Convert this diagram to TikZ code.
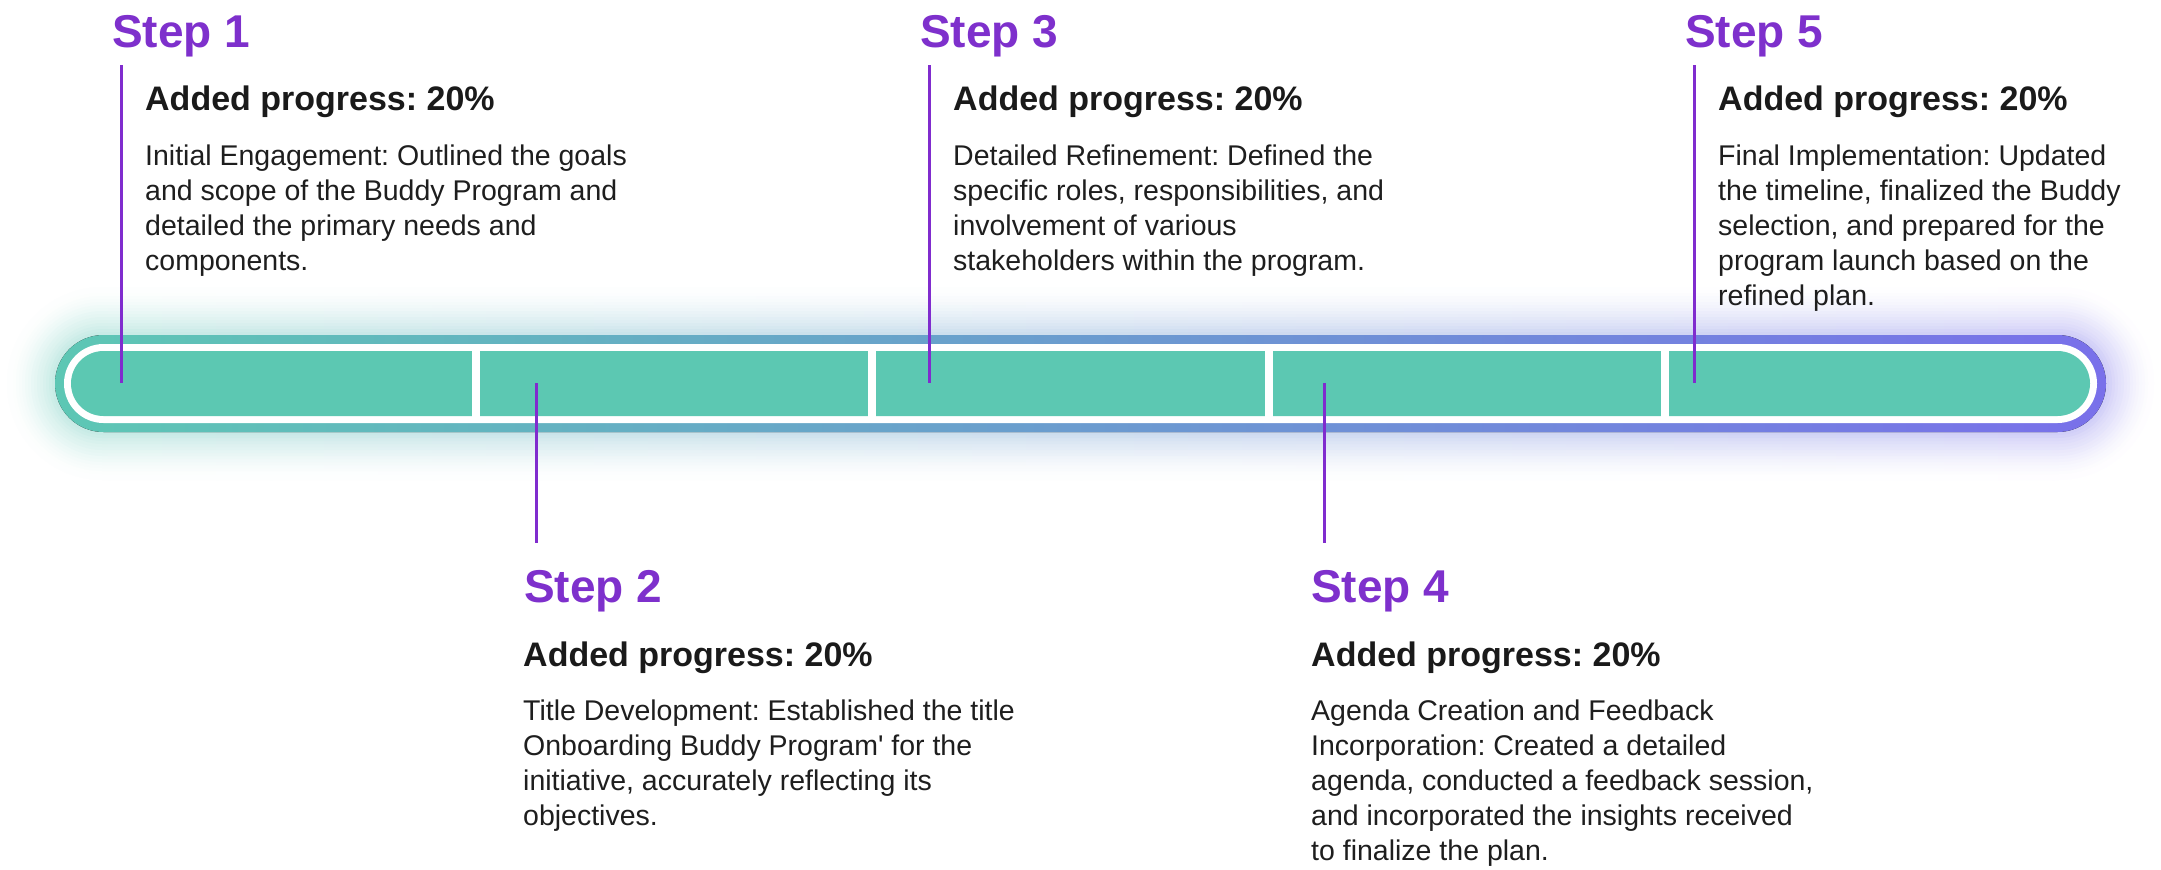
\documentclass[tikz,border=0pt]{standalone}
\usepackage{fontspec}
\setmainfont{Liberation Sans}
\frenchspacing
\begin{document}
\frenchspacing
\begin{tikzpicture}[x=1pt,y=-1pt,
  steplabel/.style={anchor=base west,inner sep=0pt,text=stepPurple,font=\bfseries\fontsize{46}{50}\selectfont},
  heading/.style={anchor=base west,inner sep=0pt,text=headBlack,font=\bfseries\fontsize{34}{40}\selectfont},
  body/.style={anchor=base west,inner sep=0pt,text=bodyBlack,align=left,font=\frenchspacing\fontsize{28.5}{35}\selectfont},
  stepline/.style={draw=linePurple,line width=3pt},
  divider/.style={draw=white,line width=8pt}]
\definecolor{stepPurple}{RGB}{126,48,204}
\definecolor{linePurple}{RGB}{128,44,206}
\definecolor{headBlack}{RGB}{26,26,26}
\definecolor{bodyBlack}{RGB}{30,30,30}
\definecolor{barGreen}{RGB}{92,200,178}
\definecolor{barLeft}{RGB}{93,199,180}
\definecolor{barRight}{RGB}{121,112,234}
\fill[white] (0,0) rectangle (2161,870);
\useasboundingbox (0,0) rectangle (2161,870);
% glow: opaque strips (each overlapping the next), opaque nested layers
\foreach \i in {0,...,39}{
  \pgfmathtruncatemacro\xa{\i*54}
  \pgfmathtruncatemacro\xb{\i==39 ? 2161 : \xa+56}
  \pgfmathtruncatemacro\p{max(0,min(100,100-((\xa+27-55)/2051*100)))}
  \colorlet{gc}{barLeft!\p!barRight}
  \begin{scope}
    \clip (\xa,250) rectangle (\xb,520);
    \foreach \g in {16,...,1}{
      \pgfmathtruncatemacro\k{max(1,round(34*((17-\g)/16)^1.6))}
      \fill[gc!\k!white,rounded corners={48pt+3pt*\g}]
        ({55-3*\g},{335-3*\g}) rectangle ({2106+3*\g},{432+3*\g});
    }
  \end{scope}
}
% border
\fill[left color=barLeft,right color=barRight,rounded corners=48.5pt] (55,335) rectangle (2106,432);
\fill[white,rounded corners=39.5pt] (64,344) rectangle (2097,423);
\fill[barGreen,rounded corners=32.5pt] (71,351) rectangle (2090,416);
% dividers
\foreach \d/\n in {476/a,872/b,1269/c,1665/d}{
  \coordinate (d\n t) at (\d,350);
  \coordinate (d\n b) at (\d,417);
  \draw[divider] (d\n t) -- (d\n b);
}
% step lines
\coordinate (l1t) at (121,65);  \coordinate (l1b) at (121,383);
\coordinate (l2t) at (536,383); \coordinate (l2b) at (536,543);
\coordinate (l3t) at (929,65);  \coordinate (l3b) at (929,383);
\coordinate (l4t) at (1324,383); \coordinate (l4b) at (1324,543);
\coordinate (l5t) at (1694,65); \coordinate (l5b) at (1694,383);
\draw[stepline] (l1t) -- (l1b);
\draw[stepline] (l2t) -- (l2b);
\draw[stepline] (l3t) -- (l3b);
\draw[stepline] (l4t) -- (l4b);
\draw[stepline] (l5t) -- (l5b);
% step 1 (body anchored at the baseline of its last line)
\node[steplabel] (s1) at (112,47) {Step 1};
\node[heading] (h1) at (145,110) {Added progress: 20\%};
\node[body] (b1) at (145,270) {Initial Engagement: Outlined the goals\\and scope of the Buddy Program and\\detailed the primary needs and\\components.};
% step 2
\node[steplabel] (s2) at (524,602) {Step 2};
\node[heading] (h2) at (523,666) {Added progress: 20\%};
\node[body] (b2) at (523,825) {Title Development: Established the title\\Onboarding Buddy Program\textquotesingle{} for the\\initiative, accurately reflecting its\\objectives.};
% step 3
\node[steplabel] (s3) at (920,47) {Step 3};
\node[heading] (h3) at (953,110) {Added progress: 20\%};
\node[body] (b3) at (953,270) {Detailed Refinement: Defined the\\specific roles, responsibilities, and\\involvement of various\\stakeholders within the program.};
% step 4
\node[steplabel] (s4) at (1311,602) {Step 4};
\node[heading] (h4) at (1311,666) {Added progress: 20\%};
\node[body] (b4) at (1311,860) {Agenda Creation and Feedback\\Incorporation: Created a detailed\\agenda, conducted a feedback session,\\and incorporated the insights received\\to finalize the plan.};
% step 5
\node[steplabel] (s5) at (1685,47) {Step 5};
\node[heading] (h5) at (1718,110) {Added progress: 20\%};
\node[body] (b5) at (1718,305) {Final Implementation: Updated\\the timeline, finalized the Buddy\\selection, and prepared for the\\program launch based on the\\refined plan.};
\end{tikzpicture}
\end{document}
